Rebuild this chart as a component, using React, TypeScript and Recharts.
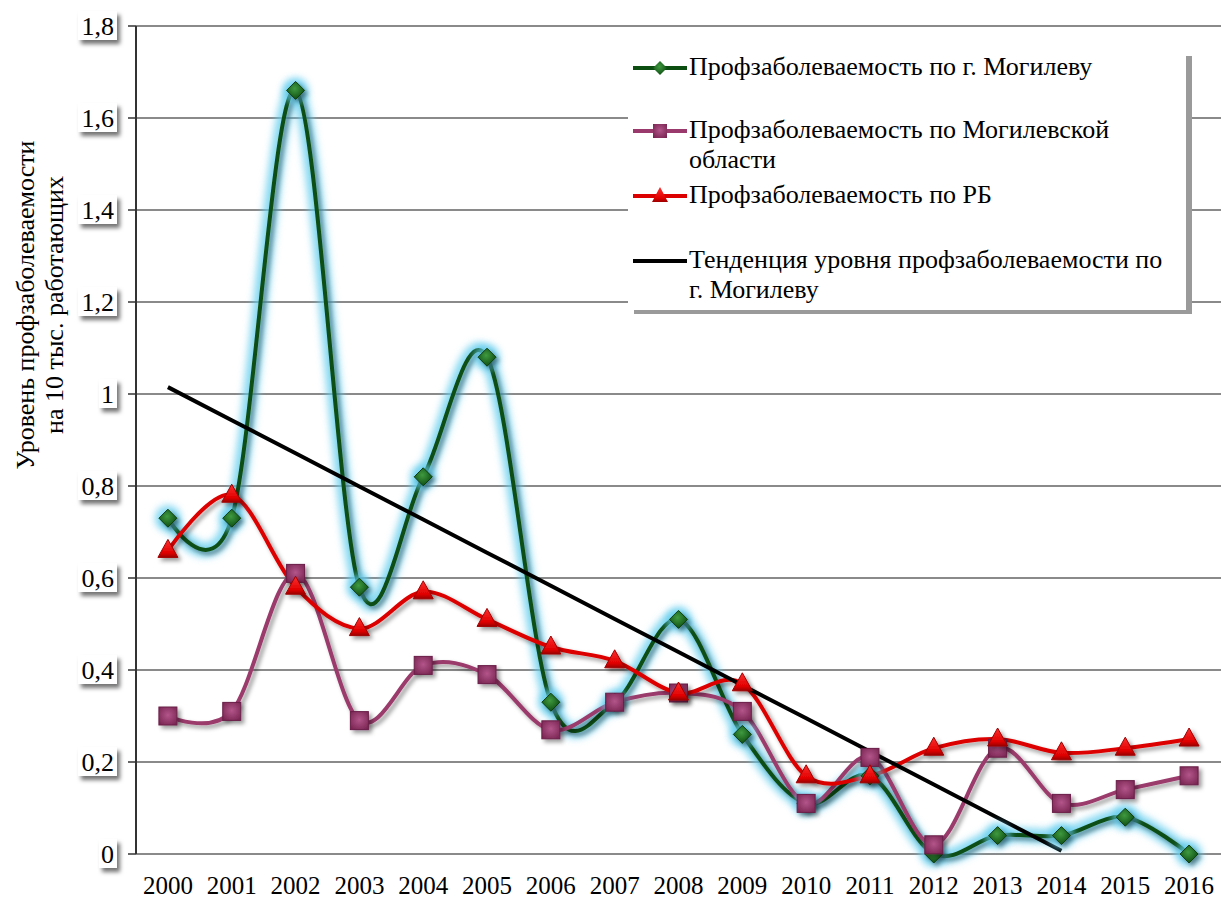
import { LineChart, Line, XAxis, YAxis, CartesianGrid } from 'recharts'

// values, 2000..2016
const YEARS = ['2000', '2001', '2002', '2003', '2004', '2005', '2006', '2007', '2008', '2009', '2010', '2011', '2012', '2013', '2014', '2015', '2016']
const CITY = [0.73, 0.73, 1.66, 0.58, 0.82, 1.08, 0.33, 0.33, 0.51, 0.26, 0.11, 0.17, 0.0, 0.04, 0.04, 0.08, 0.0]
const OBLAST = [0.3, 0.31, 0.61, 0.29, 0.41, 0.39, 0.27, 0.33, 0.35, 0.31, 0.11, 0.21, 0.02, 0.23, 0.11, 0.14, 0.17]
const RB = [0.66, 0.78, 0.58, 0.49, 0.57, 0.51, 0.45, 0.42, 0.35, 0.37, 0.17, 0.17, 0.23, 0.25, 0.22, 0.23, 0.25]
const TREND = [1.015, 0.943, 0.871, 0.799, 0.727, 0.655, 0.583, 0.511, 0.439, 0.367, 0.295, 0.223, 0.151, 0.079, 0.007, null, null]

const Y_TICKS = [0, 0.2, 0.4, 0.6, 0.8, 1, 1.2, 1.4, 1.6, 1.8]
const YEAR_TICKS = YEARS.map((_, i) => i)
const BOUNDS = [-0.5, 0.5, 1.5, 2.5, 3.5, 4.5, 5.5, 6.5, 7.5, 8.5, 9.5, 10.5, 11.5, 12.5, 13.5, 14.5, 15.5, 16.5]

const LEGEND = [
  { key: 'city', lines: ['Профзаболеваемость по г. Могилеву'] },
  { key: 'oblast', lines: ['Профзаболеваемость по Могилевской', 'области'] },
  { key: 'rb', lines: ['Профзаболеваемость по РБ'] },
  { key: 'trend', lines: ['Тенденция уровня профзаболеваемости по', 'г. Могилеву'] },
]

const DATA = YEARS.map((year, i) => ({
  i,
  year,
  city: CITY[i],
  oblast: OBLAST[i],
  rb: RB[i],
  trend: TREND[i],
}))

const W = 1221
const H = 898
const SERIF = "'Liberation Serif', Tinos"
const GREEN = '#0c4d12'
const PURPLE = '#9a3a6c'
const RED = '#dc0000'
const GLOW = '#62cdee'

// Excel-like smoothing (Catmull-Rom / cardinal with tension 0)
function excelSmooth(context: any) {
  const k = 1 / 6
  let x0 = NaN, y0 = NaN, x1 = NaN, y1 = NaN, x2 = NaN, y2 = NaN
  let pt = 0
  let line: number = NaN
  const seg = (x: number, y: number) =>
    context.bezierCurveTo(
      x1 + k * (x2 - x0), y1 + k * (y2 - y0),
      x2 + k * (x1 - x), y2 + k * (y1 - y),
      x2, y2,
    )
  return {
    areaStart() { line = 0 },
    areaEnd() { line = NaN },
    lineStart() {
      x0 = x1 = x2 = y0 = y1 = y2 = NaN
      pt = 0
    },
    lineEnd() {
      if (pt === 2) context.lineTo(x2, y2)
      else if (pt === 3) seg(x1, y1)
      if (line || (line !== 0 && pt === 1)) context.closePath()
      line = 1 - line
    },
    point(x: number, y: number) {
      x = +x
      y = +y
      switch (pt) {
        case 0:
          pt = 1
          if (line) context.lineTo(x, y)
          else context.moveTo(x, y)
          break
        case 1:
          pt = 2
          x1 = x
          y1 = y
          break
        case 2:
          pt = 3
          seg(x, y)
          break
        default:
          seg(x, y)
      }
      x0 = x1; x1 = x2; x2 = x
      y0 = y1; y1 = y2; y2 = y
    },
  }
}

function Diamond({ cx, cy }: { cx: number; cy: number }) {
  return (
    <polygon
      points={`${cx},${cy - 9} ${cx + 9},${cy} ${cx},${cy + 9} ${cx - 9},${cy}`}
      fill="url(#gGreen)"
      stroke="#0a3d0e"
      strokeWidth={1}
    />
  )
}

function Square({ cx, cy }: { cx: number; cy: number }) {
  return (
    <rect x={cx - 9} y={cy - 9} width={18} height={18} fill="url(#gPurple)" stroke="#6a1f48" strokeWidth={1} />
  )
}

function Triangle({ cx, cy }: { cx: number; cy: number }) {
  return (
    <polygon
      points={`${cx},${cy - 11} ${cx + 10},${cy + 7} ${cx - 10},${cy + 7}`}
      fill="url(#gRed)"
      stroke="#a00000"
      strokeWidth={1}
    />
  )
}

const dotOf = (Mark: any) => (p: any) =>
  p.cx == null || p.cy == null ? (
    <g key={`n-${p.index}`} />
  ) : (
    <g key={`d-${p.index}`} filter="url(#shadow)">
      <Mark cx={p.cx} cy={p.cy} />
    </g>
  )

const glowDot = (p: any) => (
  <circle key={`g-${p.index}`} cx={p.cx} cy={p.cy} r={13} fill={GLOW} opacity={0.75} filter="url(#glow)" />
)

const fmt = (v: number) => String(v).replace('.', ',')

function YTick(props: any) {
  const { x, y, payload } = props
  const text = fmt(payload.value)
  const w = text.length === 1 ? 15 : 36
  return (
    <g>
      <rect x={x - w} y={y - 15} width={w + 3} height={29} fill="#fff" filter="url(#boxShadow)" />
      <text x={x} y={y} dy={9} textAnchor="end" fontSize={26} fontFamily={SERIF} fill="#000">
        {text}
      </text>
    </g>
  )
}

function YLabel() {
  return (
    <g fontFamily={SERIF} fontSize={26} fill="#000" textAnchor="middle">
      <text transform="translate(34, 305) rotate(-90)">Уровень профзаболеваемости</text>
      <text transform="translate(63, 305) rotate(-90)">на 10 тыс. работающих</text>
    </g>
  )
}

function LegendSample({ kind }: { kind: string }) {
  const color = kind === 'city' ? GREEN : kind === 'oblast' ? PURPLE : kind === 'rb' ? RED : '#000'
  return (
    <svg width={58} height={24} style={{ display: 'block' }}>
      <line x1={2} y1={12} x2={56} y2={12} stroke={color} strokeWidth={4} />
      {kind === 'city' && <polygon points="29,5 36,12 29,19 22,12" fill="url(#gGreen)" />}
      {kind === 'oblast' && <rect x={22} y={5} width={14} height={14} fill="url(#gPurple)" />}
      {kind === 'rb' && <polygon points="29,3 37,18 21,18" fill="url(#gRed)" />}
    </svg>
  )
}

function LegendBox() {
  const rowTops = [0, 63, 128, 193]
  return (
    <div
      style={{
        position: 'absolute',
        left: 628,
        top: 52,
        width: 558,
        height: 258,
        background: '#fff',
        boxShadow: '6px 4px 0 #9a9a9a',
        fontFamily: SERIF,
        fontSize: 26,
        color: '#000',
      }}
    >
      {LEGEND.map((item, idx) => (
        <div
          key={item.key}
          style={{ position: 'absolute', left: 3, top: rowTops[idx], display: 'flex', alignItems: 'flex-start' }}
        >
          <div style={{ marginTop: 4 }}>
            <LegendSample kind={item.key} />
          </div>
          <div style={{ lineHeight: '30px', whiteSpace: 'nowrap' }}>
            {item.lines.map((l) => (
              <div key={l}>{l}</div>
            ))}
          </div>
        </div>
      ))}
    </div>
  )
}

export default function App() {
  return (
    <div style={{ position: 'relative', width: W, height: H, background: '#fff' }}>
      <style>{'body{margin:0}'}</style>
      <LineChart width={W} height={H} data={DATA} margin={{ top: 26, right: 0, bottom: 0, left: 0 }}>
        <defs>
          <filter id="shadow" filterUnits="userSpaceOnUse" x={0} y={0} width={W} height={H}>
            <feDropShadow dx={3} dy={3} stdDeviation={2} floodColor="#000" floodOpacity={0.4} />
          </filter>
          <filter id="boxShadow" filterUnits="userSpaceOnUse" x={0} y={0} width={W} height={H}>
            <feDropShadow dx={3} dy={4} stdDeviation={2} floodColor="#000" floodOpacity={0.55} />
          </filter>
          <filter id="glow" filterUnits="userSpaceOnUse" x={0} y={0} width={W} height={H}>
            <feGaussianBlur stdDeviation={3.5} />
          </filter>
          <radialGradient id="gGreen" cx="45%" cy="40%" r="60%">
            <stop offset="0%" stopColor="#3f9a3f" />
            <stop offset="100%" stopColor="#0f4f14" />
          </radialGradient>
          <radialGradient id="gPurple" cx="50%" cy="45%" r="65%">
            <stop offset="0%" stopColor="#b3558a" />
            <stop offset="100%" stopColor="#7a2653" />
          </radialGradient>
          <linearGradient id="gRed" x1="0" y1="0" x2="0" y2="1">
            <stop offset="0%" stopColor="#ff3030" />
            <stop offset="75%" stopColor="#e00000" />
            <stop offset="100%" stopColor="#9a0000" />
          </linearGradient>
        </defs>
        <CartesianGrid xAxisId="years" vertical={false} stroke="#8a8a8a" strokeWidth={2} />
        <XAxis
          xAxisId="marks"
          type="number"
          dataKey="i"
          domain={[-0.5, 16.5]}
          ticks={BOUNDS}
          tick={false}
          tickSize={7}
          height={0}
          axisLine={{ stroke: '#333', strokeWidth: 2 }}
          tickLine={{ stroke: '#333', strokeWidth: 1.5 }}
          allowDataOverflow
        />
        <XAxis
          xAxisId="years"
          type="number"
          dataKey="i"
          domain={[-0.5, 16.5]}
          ticks={YEAR_TICKS}
          interval={0}
          height={44}
          tickSize={0}
          tickMargin={22}
          axisLine={false}
          tickFormatter={(v: number) => YEARS[v]}
          tick={{ fontSize: 25, fontFamily: SERIF, fill: '#000' }}
          allowDataOverflow
        />
        <YAxis
          width={136}
          domain={[0, 1.8]}
          ticks={Y_TICKS}
          interval={0}
          tickSize={8}
          tickMargin={14}
          axisLine={{ stroke: '#333', strokeWidth: 2 }}
          tickLine={{ stroke: '#333', strokeWidth: 1.5 }}
          tick={<YTick />}
          label={<YLabel />}
        />
        <Line
          xAxisId="years"
          dataKey="city"
          type={excelSmooth as any}
          stroke={GLOW}
          strokeOpacity={0.75}
          strokeWidth={15}
          filter="url(#glow)"
          dot={glowDot}
          activeDot={false}
          legendType="none"
          isAnimationActive={false}
        />
        <Line
          xAxisId="years"
          dataKey="city"
          type={excelSmooth as any}
          stroke={GREEN}
          strokeWidth={4}
          filter="url(#shadow)"
          dot={dotOf(Diamond)}
          activeDot={false}
          isAnimationActive={false}
        />
        <Line
          xAxisId="years"
          dataKey="oblast"
          type={excelSmooth as any}
          stroke={PURPLE}
          strokeWidth={4}
          filter="url(#shadow)"
          dot={dotOf(Square)}
          activeDot={false}
          isAnimationActive={false}
        />
        <Line
          xAxisId="years"
          dataKey="rb"
          type={excelSmooth as any}
          stroke={RED}
          strokeWidth={4}
          filter="url(#shadow)"
          dot={dotOf(Triangle)}
          activeDot={false}
          isAnimationActive={false}
        />
        <Line
          xAxisId="years"
          dataKey="trend"
          type="linear"
          stroke="#000"
          strokeWidth={4}
          dot={false}
          activeDot={false}
          isAnimationActive={false}
        />
      </LineChart>
      <LegendBox />
    </div>
  )
}
